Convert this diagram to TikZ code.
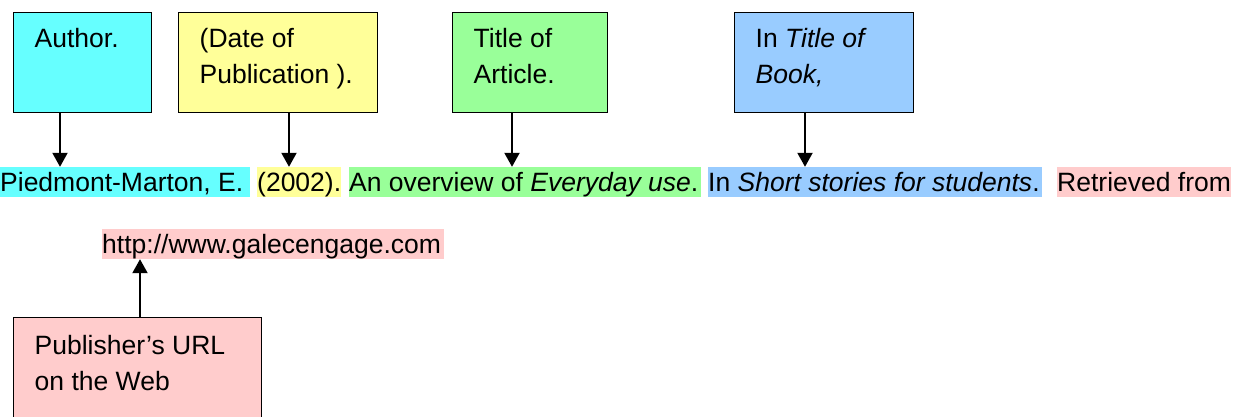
\documentclass[tikz,border=0pt]{standalone}
\usepackage{fontspec}
\setmainfont{Liberation Sans}
\usetikzlibrary{arrows.meta}
\definecolor{cyanc}{HTML}{66FFFF}
\definecolor{yellowc}{HTML}{FFFF99}
\definecolor{greenc}{HTML}{99FF99}
\definecolor{bluec}{HTML}{99CCFF}
\definecolor{pinkc}{HTML}{FFCCCC}
\newcommand\boxtext[2]{\parbox[t]{#1}{\raggedright #2}}
\tikzset{
  lbl/.style={draw=black, line width=1.4pt, anchor=north west, inner xsep=21pt, inner ysep=0pt, text height=35pt, text depth=65pt},
  hl/.style={anchor=base west, inner sep=0pt, text height=24pt, text depth=6pt},
  arr/.style={line width=2pt, -{Triangle[width=15pt,length=14pt]}},
}
\begin{document}
\begin{tikzpicture}[x=1pt, y=-1pt, font=\fontsize{26.5pt}{36pt}\selectfont]
\useasboundingbox (0,0) rectangle (1233,416);
% label boxes
\node[lbl, fill=cyanc] (author) at (13,12) {\boxtext{96pt}{Author.}};
\node[lbl, fill=yellowc] (date) at (178,12) {\boxtext{157pt}{(Date of\\Publication ).}};
\node[lbl, fill=greenc] (title) at (452,12) {\boxtext{113pt}{Title of\\Article.}};
\node[lbl, fill=bluec] (btitle) at (734,12) {\boxtext{137pt}{In \textit{Title of}\\\textit{Book,}}};
\node[lbl, fill=pinkc, text height=37pt, text depth=73pt] (publisher) at (13,317) {\boxtext{206pt}{Publisher’s URL\\on the Web}};
% reference line
\node[hl, fill=cyanc] (piedmont) at (0,191) {Piedmont-Marton, E.\kern7pt};
\node[hl, fill=yellowc] (year) at (257,191) {(2002).};
\node[hl, fill=greenc] (article) at (349,191) {An overview of \textit{Everyday use}.\kern3pt};
\node[hl, fill=bluec] (book) at (708,191) {In \textit{Short stories for students}.\kern2pt};
\node[hl, fill=pinkc] (retrieved) at (1057,191) {Retrieved from};
\node[hl, fill=pinkc] (url) at (102,253) {http://www.galecengage.com\kern3pt};
% connectors
\coordinate (a1) at ([xshift=47pt]author.south west);
\coordinate (a2) at ([xshift=111pt]date.south west);
\coordinate (a3) at ([xshift=60pt]title.south west);
\coordinate (a4) at ([xshift=71pt]btitle.south west);
\coordinate (a5) at ([xshift=127pt]publisher.north west);
\draw[arr] (a1) -- (a1 |- piedmont.north);
\draw[arr] (a2) -- (a2 |- year.north);
\draw[arr] (a3) -- (a3 |- article.north);
\draw[arr] (a4) -- (a4 |- book.north);
\draw[arr] (a5) -- (a5 |- url.south);
\end{tikzpicture}
\end{document}
